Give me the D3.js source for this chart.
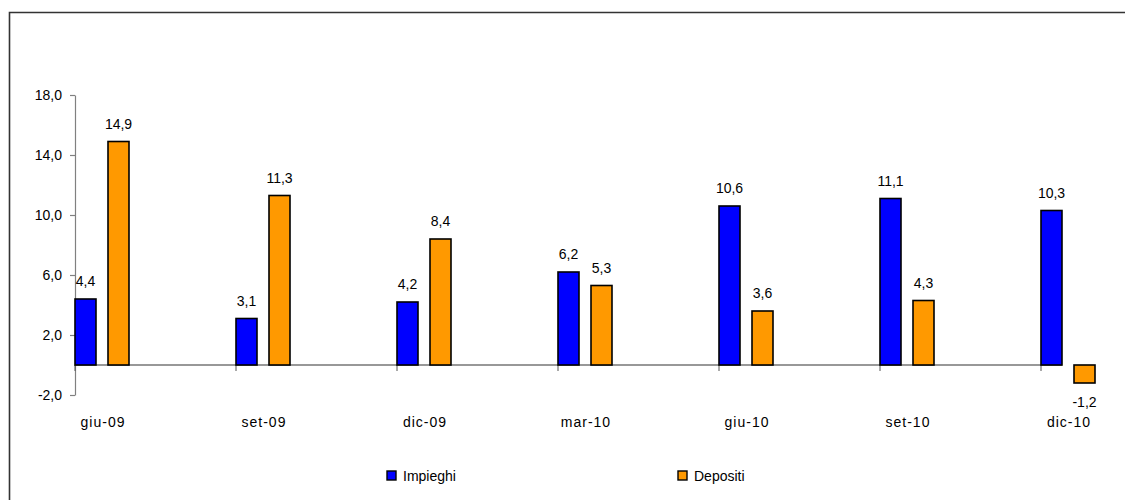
<!DOCTYPE html>
<html>
<head>
<meta charset="utf-8">
<script src="https://cdn.jsdelivr.net/npm/d3@7"></script>
<style>
  html, body { margin: 0; padding: 0; background: #fff; }
  svg { display: block; }
  text { font-family: "Liberation Sans", Arial, sans-serif; fill: #000; }
</style>
</head>
<body>
<svg id="chart" width="1125" height="500"></svg>
<script>
const categories = ["giu-09", "set-09", "dic-09", "mar-10", "giu-10", "set-10", "dic-10"];
const impieghi = [4.4, 3.1, 4.2, 6.2, 10.6, 11.1, 10.3];
const depositi = [14.9, 11.3, 8.4, 5.3, 3.6, 4.3, -1.2];
const seriesNames = ["Impieghi", "Depositi"];
const seriesColors = ["#0000ff", "#ff9900"];
const yTicks = [-2, 2, 6, 10, 14, 18];

// Italian number format: one decimal, comma separator, plain hyphen for negatives
const fmt = v => d3.format(".1f")(v).replace(".", ",").replace("\u2212", "-");

const svg = d3.select("#chart");

// outer frame (left and top edges)
svg.append("path")
  .attr("d", "M9.5,500 L9.5,12.5 L1125,12.5")
  .attr("fill", "none")
  .attr("stroke", "#333")
  .attr("stroke-width", 1.6);

const y = d3.scaleLinear().domain([-2, 18]).range([395, 95]);

const x = d3.scaleBand()
  .domain(categories)
  .range([75, 75 + 161 * categories.length])
  .paddingInner(0).paddingOuter(0);

const xs = d3.scaleBand()
  .domain(seriesNames)
  .range([0, 54])
  .paddingInner(12 / 33).paddingOuter(0);

// y axis
const yAxis = d3.axisLeft(y)
  .tickValues(yTicks)
  .tickSize(5)
  .tickSizeOuter(0)
  .tickFormat(fmt);

const gy = svg.append("g").attr("transform", "translate(75,0)").call(yAxis);
gy.select(".domain").attr("stroke", "#808080").attr("stroke-width", 1.2);
gy.selectAll(".tick line").attr("stroke", "#808080").attr("stroke-width", 1.2);
gy.selectAll(".tick text")
  .attr("x", -13)
  .style("font-size", "14px")
  .style("font-family", "'Liberation Sans', Arial, sans-serif")
  .attr("fill", "#000");

// zero line
svg.append("line")
  .attr("x1", 75).attr("x2", x("dic-10") + xs("Impieghi") + xs.bandwidth())
  .attr("y1", y(0)).attr("y2", y(0))
  .attr("stroke", "#333").attr("stroke-width", 1.2);

// category ticks
svg.selectAll(".ctick")
  .data(categories)
  .join("line")
  .attr("class", "ctick")
  .attr("x1", d => x(d)).attr("x2", d => x(d))
  .attr("y1", y(0)).attr("y2", y(0) + 6)
  .attr("stroke", "#555").attr("stroke-width", 1);

// category labels
svg.selectAll(".clabel")
  .data(categories)
  .join("text")
  .attr("class", "clabel")
  .attr("x", d => x(d) + 28)
  .attr("y", 427)
  .attr("text-anchor", "middle")
  .style("font-size", "14px")
  .style("letter-spacing", "1px")
  .text(d => d);

const rows = categories.map((c, i) => ({ c, vals: [impieghi[i], depositi[i]] }));

const groups = svg.selectAll(".grp")
  .data(rows)
  .join("g")
  .attr("class", "grp")
  .attr("transform", d => `translate(${x(d.c)},0)`);

const bars = groups.selectAll("g.bar")
  .data(d => d.vals.map((v, k) => ({ v, k })))
  .join("g").attr("class", "bar");

bars.append("rect")
  .attr("x", d => xs(seriesNames[d.k]))
  .attr("width", xs.bandwidth())
  .attr("y", d => y(Math.max(0, d.v)))
  .attr("height", d => Math.abs(y(d.v) - y(0)))
  .attr("fill", d => seriesColors[d.k])
  .attr("stroke", "#000")
  .attr("stroke-width", 1.6);

bars.append("text")
  .attr("x", d => xs(seriesNames[d.k]) + xs.bandwidth() / 2)
  .attr("y", d => d.v >= 0 ? y(d.v) - 13 : y(d.v) + 24)
  .attr("text-anchor", "middle")
  .style("font-size", "14px")
  .text(d => fmt(d.v));

// legend
const legendX = [387, 678];
const legend = svg.selectAll(".leg")
  .data(seriesNames)
  .join("g")
  .attr("class", "leg")
  .attr("transform", (d, i) => `translate(${legendX[i]},471)`);
legend.append("rect")
  .attr("width", 9).attr("height", 9)
  .attr("fill", (d, i) => seriesColors[i])
  .attr("stroke", "#000").attr("stroke-width", 1.4);
legend.append("text")
  .attr("x", 16).attr("y", 10)
  .style("font-size", "14px")
  .text(d => d);
</script>
</body>
</html>
